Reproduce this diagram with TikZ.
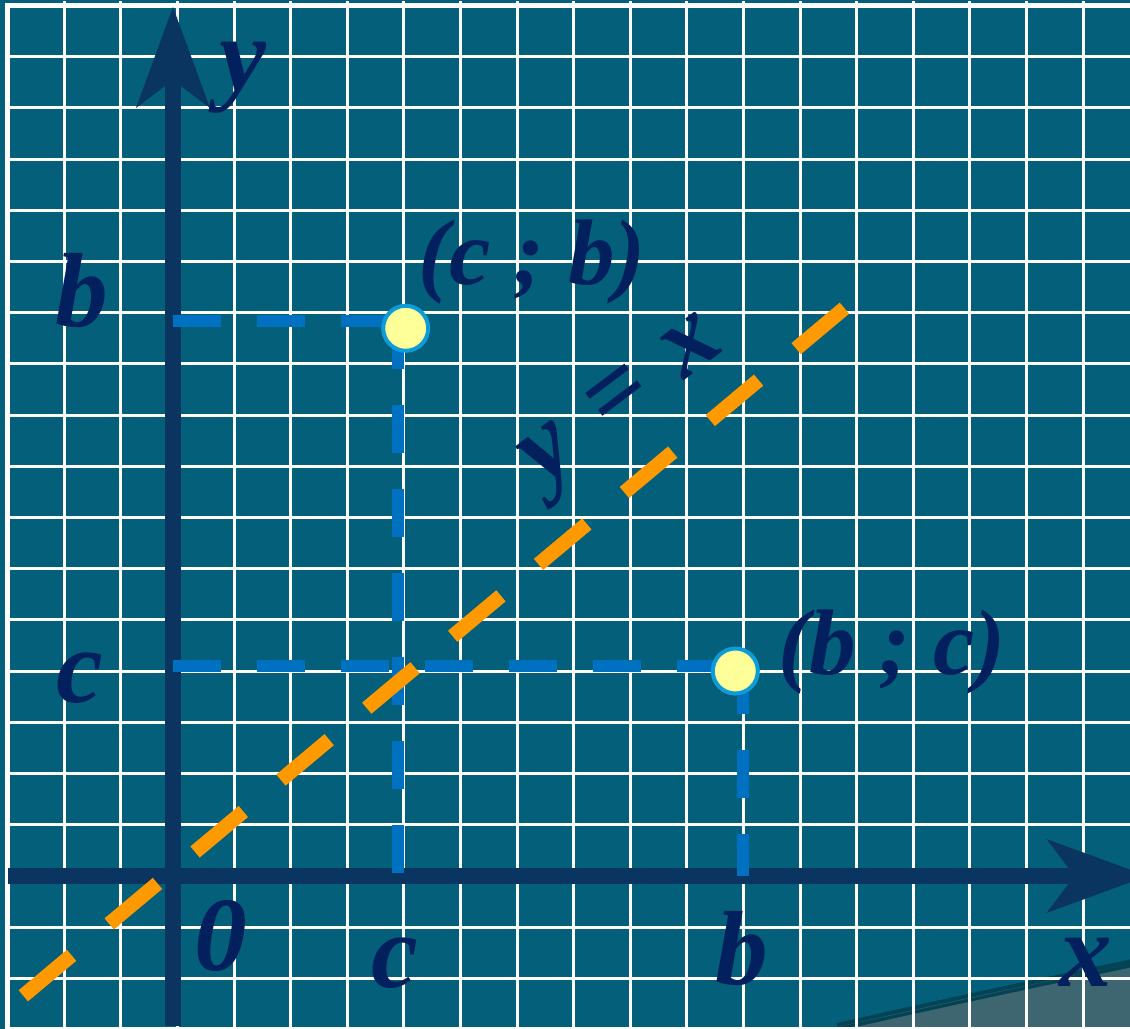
\documentclass[tikz,border=0pt]{standalone}
\usepackage{fontspec}
\setmainfont{Liberation Serif}
\usetikzlibrary{arrows.meta}
\definecolor{bgteal}{HTML}{04607A}
\definecolor{swoosh}{HTML}{3E6670}
\definecolor{shade}{HTML}{02465A}
\definecolor{axiscol}{HTML}{0A3560}
\definecolor{projblue}{HTML}{0070C0}
\definecolor{diagorange}{HTML}{FF9900}
\definecolor{ptring}{HTML}{0E9CD8}
\definecolor{ptfill}{HTML}{FFFF99}
\definecolor{labelcol}{HTML}{03205E}

\begin{document}
\begin{tikzpicture}[
  gridline/.style={white,line width=0.06cm},
  axisline/.style={axiscol,line width=0.32cm,-{Stealth[length=2.02cm,width=1.48cm,inset=0.56cm,line width=0pt]}},
  projline/.style={projblue,line width=0.24cm,dash pattern=on 0.96cm off 0.72cm},
  diagline/.style={diagorange,line width=0.29cm,dash pattern=on 1.26cm off 0.98cm},
  pt/.style={circle,draw=ptring,fill=ptfill,line width=0.08cm,minimum size=0.9cm,inner sep=0pt},
  lbl/.style={text=labelcol,inner sep=0pt,font=\fontsize{60}{72}\selectfont\bfseries\itshape},
  ptlbl/.style={lbl,font=\fontsize{53}{64}\selectfont\bfseries\itshape}
]

\clip (-3.55,-3.06) rectangle (19.05,17.52);
\fill[bgteal] (-3.55,-3.06) rectangle (19.05,17.52);

% corner shape, bottom right
\fill[swoosh] (13.2,-3.1) .. controls (15.3,-2.62) and (17.3,-2.2) .. (19.2,-1.80) -- (19.2,-3.1) -- cycle;
\draw[shade,line width=0.16cm,opacity=0.3] (13.2,-3.02) .. controls (15.3,-2.54) and (17.3,-2.12) .. (19.2,-1.72);

% grid
\draw[gridline] (-3.396,-3.072) grid[xstep=1.132,ystep=1.024] (19.2,17.5);
\draw[white,line width=0.1cm] (19.5,-3.072) -- (-3.396,-3.072) -- (-3.396,17.408) -- (19.5,17.408);

% axes
\coordinate (ybot) at (-0.09,-2.99);
\coordinate (ytop) at (-0.09,17.38);
\coordinate (xleft) at (-3.39,0);
\coordinate (xright) at (19.4,0);
\draw[axisline] (ybot) -- (ytop);
\draw[axisline] (xleft) -- (xright);

% projections
\coordinate (yb) at (-0.09,11.10);
\coordinate (yc) at (-0.09,4.20);
\coordinate (cbc) at (4.41,11.10);
\coordinate (xc) at (4.41,0);
\coordinate (bcc) at (11.31,4.20);
\coordinate (xb) at (11.31,0);
\draw[projline] (yb) -- (cbc);
\draw[projline] (cbc) -- (xc);
\draw[projline] (yc) -- (bcc);
\draw[projline] (bcc) -- (xb);

% y = x
\coordinate (dl) at (-3.084,-2.396);
\coordinate (du) at (13.344,11.36);
\draw[diagline] (dl) -- (du);

\node[pt] (cb) at (4.564,10.954) {};
\node[pt] (bc) at (11.156,4.10) {};

\node[lbl] (ylab) at (1.3,15.96) {y};
\node[lbl] (blab) at (-1.91,11.70) {b};
\node[lbl] (clab) at (-1.95,3.96) {c};
\node[lbl] (olab) at (0.87,-1.20) {0};
\node[lbl] (cxlab) at (4.35,-1.74) {c};
\node[lbl] (bxlab) at (11.29,-1.46) {b};
\node[lbl] (xlab) at (18.17,-1.72) {x};
\node[ptlbl] (cblab) at (7.09,12.28) {(c ; b)};
\node[ptlbl] (bclab) at (14.29,4.48) {(b ; c)};
\node[lbl,rotate=37] (diaglab) at (9.0,9.38) {y\kern0.1em{} = \kern0.06em{}x};

\end{tikzpicture}
\end{document}
